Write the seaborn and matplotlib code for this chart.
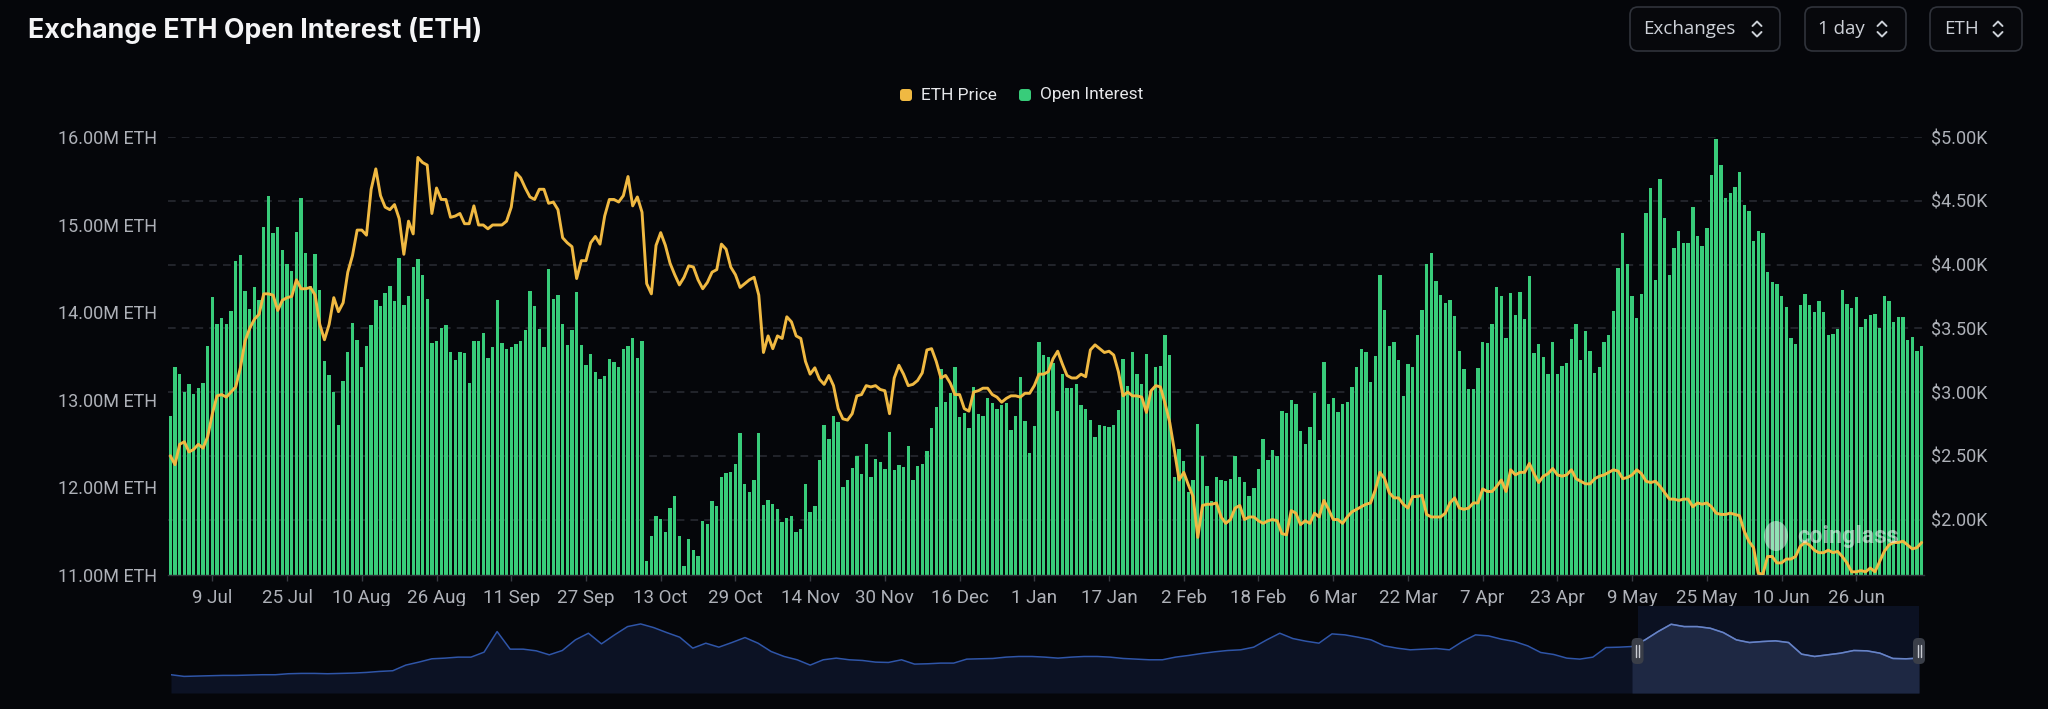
import numpy as np
import pandas as pd
import matplotlib.pyplot as plt
import seaborn as sns
from matplotlib.patches import FancyBboxPatch, Ellipse
from matplotlib.lines import Line2D
from matplotlib.transforms import IdentityTransform

# ---- data ----
start_date = "2025-06-30"

# exchange open interest, million ETH, one value per day
open_interest = [
    12.82, 13.38, 13.29, 13.09, 13.18, 13.07, 13.13, 13.19, 13.61, 14.17,
    13.86, 13.93, 13.87, 14.01, 14.58, 14.65, 14.24, 14.04, 14.29, 14.14,
    14.97, 15.33, 14.90, 14.97, 14.71, 14.55, 14.47, 14.92, 15.30, 14.68,
    14.30, 14.66, 14.25, 13.44, 13.28, 13.09, 12.71, 13.21, 13.54, 13.88,
    13.68, 13.37, 13.61, 13.85, 14.14, 14.07, 14.22, 14.30, 14.13, 14.62,
    14.08, 14.19, 14.52, 14.61, 14.43, 14.15, 13.65, 13.67, 13.82, 13.85,
    13.54, 13.45, 13.54, 13.53, 13.19, 13.67, 13.67, 13.76, 13.48, 13.60,
    14.14, 13.65, 13.58, 13.60, 13.64, 13.67, 13.80, 14.24, 14.07, 13.81,
    13.60, 14.49, 14.15, 14.20, 13.86, 13.63, 13.80, 14.23, 13.62, 13.40,
    13.52, 13.32, 13.24, 13.27, 13.47, 13.43, 13.38, 13.58, 13.61, 13.70,
    13.48, 13.67, 11.16, 11.45, 11.67, 11.64, 11.49, 11.76, 11.90, 11.45,
    11.10, 11.41, 11.28, 11.22, 11.62, 11.58, 11.85, 11.79, 12.12, 12.17,
    12.18, 12.27, 12.62, 12.04, 11.95, 12.08, 12.62, 11.80, 11.86, 11.81,
    11.75, 11.60, 11.65, 11.67, 11.49, 11.53, 12.04, 11.72, 11.79, 12.31,
    12.71, 12.55, 12.82, 12.75, 12.00, 12.09, 12.22, 12.36, 12.15, 12.50,
    12.12, 12.32, 12.29, 12.21, 12.63, 12.20, 12.25, 12.23, 12.47, 12.09,
    12.24, 12.27, 12.41, 12.68, 12.92, 13.35, 12.98, 13.08, 13.38, 12.80,
    12.85, 12.68, 13.15, 12.84, 12.82, 13.02, 12.96, 12.90, 12.94, 12.96,
    12.66, 12.82, 13.26, 12.76, 12.39, 12.70, 13.66, 13.51, 13.49, 13.42,
    12.87, 13.29, 13.13, 13.14, 13.18, 12.94, 12.89, 12.77, 12.57, 12.71,
    12.70, 12.69, 12.71, 12.88, 13.47, 13.16, 13.55, 13.30, 13.18, 13.52,
    13.10, 13.37, 13.39, 13.74, 13.51, 12.12, 12.44, 12.30, 11.95, 12.09,
    12.72, 12.36, 12.02, 11.85, 12.12, 12.09, 12.07, 12.10, 12.36, 12.12,
    12.06, 11.90, 11.99, 12.21, 12.55, 12.31, 12.43, 12.36, 12.87, 12.85,
    13.00, 12.95, 12.64, 12.49, 12.69, 13.08, 12.54, 13.43, 12.95, 13.02,
    12.86, 12.95, 12.97, 13.15, 13.38, 13.58, 13.54, 13.20, 13.50, 14.42,
    14.03, 13.61, 13.66, 13.46, 13.04, 13.41, 13.37, 13.74, 14.02, 14.55,
    14.68, 14.36, 14.20, 14.10, 14.14, 13.96, 13.56, 13.35, 13.12, 13.12,
    13.36, 13.66, 13.65, 13.87, 14.29, 14.18, 13.70, 14.22, 13.97, 14.23,
    13.92, 14.41, 13.53, 13.64, 13.49, 13.30, 13.66, 13.30, 13.39, 13.42,
    13.69, 13.86, 13.46, 13.79, 13.56, 13.31, 13.37, 13.66, 13.74, 14.01,
    14.51, 14.90, 14.55, 14.18, 13.93, 14.21, 15.13, 15.42, 14.37, 15.52,
    15.08, 14.43, 14.73, 14.93, 14.79, 14.79, 15.20, 14.87, 14.76, 14.96,
    15.57, 15.98, 15.68, 15.30, 15.36, 15.43, 15.60, 15.22, 15.15, 14.81,
    14.93, 14.90, 14.46, 14.34, 14.32, 14.18, 14.06, 13.70, 13.64, 14.08,
    14.21, 14.08, 14.00, 14.13, 14.00, 13.74, 13.75, 13.81, 14.25, 14.09,
    14.05, 14.17, 13.83, 13.92, 13.97, 13.98, 13.82, 14.19, 14.13, 13.89,
    13.94, 13.94, 13.68, 13.72, 13.56, 13.61,
]

# ETH price, thousand USD, one value per day
eth_price = [
    2.50, 2.43, 2.59, 2.61, 2.53, 2.55, 2.59, 2.56, 2.65, 2.83,
    2.97, 2.98, 2.96, 3.00, 3.04, 3.19, 3.40, 3.50, 3.57, 3.61,
    3.77, 3.77, 3.76, 3.64, 3.72, 3.74, 3.75, 3.88, 3.81, 3.81,
    3.82, 3.76, 3.53, 3.41, 3.53, 3.74, 3.63, 3.70, 3.94, 4.07,
    4.27, 4.27, 4.23, 4.59, 4.75, 4.54, 4.45, 4.43, 4.47, 4.36,
    4.08, 4.34, 4.24, 4.84, 4.80, 4.78, 4.40, 4.60, 4.51, 4.51,
    4.37, 4.38, 4.40, 4.32, 4.32, 4.46, 4.31, 4.31, 4.28, 4.31,
    4.31, 4.31, 4.34, 4.45, 4.72, 4.68, 4.60, 4.53, 4.51, 4.59,
    4.59, 4.48, 4.49, 4.43, 4.21, 4.17, 4.14, 3.89, 4.03, 4.03,
    4.17, 4.22, 4.16, 4.38, 4.51, 4.51, 4.49, 4.54, 4.69, 4.46,
    4.53, 4.41, 3.85, 3.77, 4.15, 4.25, 4.15, 4.01, 3.92, 3.84,
    3.90, 3.99, 3.98, 3.88, 3.81, 3.86, 3.94, 3.96, 4.16, 4.12,
    3.98, 3.92, 3.82, 3.85, 3.88, 3.90, 3.76, 3.31, 3.44, 3.34,
    3.44, 3.42, 3.59, 3.55, 3.44, 3.42, 3.24, 3.14, 3.19, 3.10,
    3.06, 3.13, 3.05, 2.87, 2.79, 2.78, 2.83, 2.97, 2.98, 3.05,
    3.04, 3.05, 3.02, 3.01, 2.83, 3.11, 3.21, 3.14, 3.05, 3.06,
    3.09, 3.15, 3.33, 3.34, 3.24, 3.11, 3.13, 3.07, 2.98, 2.98,
    2.87, 2.85, 3.00, 3.01, 3.03, 3.03, 2.98, 2.96, 2.92, 2.95,
    2.97, 2.97, 2.96, 2.99, 2.99, 3.05, 3.14, 3.14, 3.16, 3.26,
    3.32, 3.22, 3.13, 3.11, 3.11, 3.14, 3.12, 3.33, 3.37, 3.34,
    3.31, 3.32, 3.29, 3.16, 2.97, 3.00, 2.97, 2.97, 2.96, 2.84,
    3.01, 3.05, 3.04, 2.91, 2.76, 2.54, 2.31, 2.37, 2.27, 2.18,
    1.86, 2.11, 2.12, 2.12, 2.13, 2.02, 1.97, 2.00, 2.09, 2.11,
    2.00, 2.02, 2.02, 1.99, 1.97, 1.99, 2.00, 1.99, 1.89, 1.88,
    2.07, 2.05, 1.96, 1.99, 1.97, 2.05, 2.02, 2.15, 2.08, 2.00,
    2.00, 1.97, 2.02, 2.06, 2.08, 2.10, 2.12, 2.13, 2.23, 2.37,
    2.32, 2.21, 2.17, 2.17, 2.12, 2.09, 2.18, 2.18, 2.19, 2.04,
    2.02, 2.02, 2.02, 2.05, 2.13, 2.17, 2.09, 2.08, 2.09, 2.13,
    2.13, 2.24, 2.22, 2.22, 2.26, 2.31, 2.22, 2.39, 2.35, 2.37,
    2.37, 2.44, 2.36, 2.29, 2.34, 2.36, 2.40, 2.35, 2.34, 2.35,
    2.39, 2.32, 2.30, 2.28, 2.28, 2.32, 2.34, 2.35, 2.37, 2.39,
    2.38, 2.32, 2.33, 2.35, 2.39, 2.36, 2.30, 2.29, 2.30, 2.26,
    2.21, 2.16, 2.16, 2.15, 2.16, 2.16, 2.10, 2.13, 2.12, 2.13,
    2.10, 2.05, 2.04, 2.04, 2.05, 2.04, 2.03, 1.91, 1.83, 1.78,
    1.58, 1.57, 1.71, 1.71, 1.66, 1.66, 1.69, 1.69, 1.71, 1.79,
    1.82, 1.80, 1.76, 1.74, 1.74, 1.76, 1.74, 1.75, 1.71, 1.66,
    1.59, 1.59, 1.60, 1.59, 1.62, 1.59, 1.67, 1.75, 1.80, 1.82,
    1.82, 1.83, 1.80, 1.77, 1.78, 1.82,
]

# overview line in the zoom slider (whole history, relative level)
overview_level = [
    55, 50, 51, 52, 53, 53, 54, 55, 55, 58, 59, 59, 58, 59, 60, 62, 65, 67,
    84, 93, 103, 105, 108, 108, 123, 185, 132, 132, 127, 115, 128, 160, 180,
    148, 175, 200, 208, 197, 182, 168, 135, 150, 138, 152, 167, 150, 125, 110,
    100, 84, 100, 105, 100, 98, 93, 92, 100, 87, 88, 90, 90, 102, 103, 104,
    108, 110,
    110, 108, 105, 108, 110, 110, 108, 104, 102, 100, 100, 108, 113, 119, 124,
    128, 130, 138, 160, 180, 164, 156, 150, 178, 175, 168, 160, 142, 135, 130,
    132, 134, 130, 155, 175, 172, 162, 155, 142, 122, 116, 105, 102, 108, 137,
    138, 140, 160, 185, 207, 200, 200, 195, 182, 160, 152, 155, 157, 152, 117,
    110, 115, 120, 128, 127, 120, 104, 103, 105,
]
zoom_start = 0.839   # slider window start (fraction of history)

oi_ticks = [11, 12, 13, 14, 15, 16]
price_ticks = [2.0, 2.5, 3.0, 3.5, 4.0, 4.5, 5.0]
price_range = (1.565, 5.0)
controls = ["Exchanges", "1 day", "ETH"]

dates = pd.date_range(start_date, periods=len(open_interest), freq="D")
df = pd.DataFrame({"day": np.arange(len(dates)), "oi": open_interest, "price": eth_price})

# ---- style ----
W, H = 2048, 709
BG = "#05060a"
GREEN = "#38cc7a"
GOLD = "#f0b942"
GRID = "#2a2d34"
LABEL = "#aeb1b8"

sns.set_theme(style="dark", rc={"axes.facecolor": BG, "figure.facecolor": BG})
plt.rcParams["font.family"] = ["Roboto", "DejaVu Sans"]

fig = plt.figure(figsize=(W / 100, H / 100), dpi=100, facecolor=BG)


def fx(x):
    return x / W


def fy(y):
    return 1 - y / H


def px_box(x0, y0, w, h, r, **kw):
    # rounded box in pixel coords, y measured from the top
    p = FancyBboxPatch((x0, H - y0 - h), w, h, boxstyle=f"round,pad=0,rounding_size={r}",
                       transform=IdentityTransform(), **kw)
    fig.add_artist(p)
    return p


def px_line(xs, ys, **kw):
    fig.add_artist(Line2D(xs, [H - y for y in ys], transform=IdentityTransform(), **kw))


# ---- main chart ----
ax = fig.add_axes([fx(168), fy(575), fx(1924) - fx(168), fy(137) - fy(575)])
ax.set_facecolor(BG)

plo, phi = price_range
for p in price_ticks:
    yv = oi_ticks[0] + (p - plo) / (phi - plo) * (oi_ticks[-1] - oi_ticks[0])
    ax.axhline(yv, color=GRID, lw=1.1, ls=(0, (5, 4)), zorder=0.5)

sns.barplot(data=df, x="day", y="oi", native_scale=True, color=GREEN, saturation=1,
            width=0.72, linewidth=0, errorbar=None, ax=ax, zorder=2)
ax.set_xlim(-0.5, len(df) - 0.5)
ax.set_ylim(oi_ticks[0], oi_ticks[-1])
ax.set_yticks(oi_ticks)
ax.set_yticklabels([f"{v:.2f}M ETH" for v in oi_ticks])

tick_idx = [i for i in range(len(dates)) if (i - 9) % 16 == 0]
ax.set_xticks(tick_idx)
ax.set_xticklabels([f"{dates[i].day} {dates[i].strftime('%b')}" for i in tick_idx])
ax.set_xlabel("")
ax.set_ylabel("")
ax.tick_params(axis="y", length=0, pad=8, labelsize=13, labelcolor=LABEL)
ax.tick_params(axis="x", length=4, width=1, color="#3a3d45", pad=6, labelsize=13.5,
               labelcolor=LABEL, bottom=True)
for s in ["top", "left", "right"]:
    ax.spines[s].set_visible(False)
ax.spines["bottom"].set_color("#30333a")
ax.spines["bottom"].set_linewidth(1)
ax.grid(False)

ax2 = ax.twinx()
sns.lineplot(data=df, x="day", y="price", ax=ax2, color=GOLD, linewidth=2.1)
ax2.set_ylim(plo, phi)
ax2.set_yticks(price_ticks)
ax2.set_yticklabels([f"${v:.2f}K" for v in price_ticks])
ax2.set_ylabel("")
ax2.tick_params(axis="y", length=0, pad=5, labelsize=13, labelcolor=LABEL)
for s in ax2.spines.values():
    s.set_visible(False)
ax2.grid(False)

# ---- title, controls, legend ----
fig.text(fx(28), fy(30), "Exchange ETH Open Interest (ETH)", fontsize=19.3,
         fontweight="bold", color="#f4f4f6", va="center", ha="left",
         family=["Inter", "DejaVu Sans"])

boxes = [(1630, 150, 1643, 1757), (1805, 101, 1818, 1882), (1930, 92, 1944, 1998)]
for label, (bx, bw, tx, cx) in zip(controls, boxes):
    px_box(bx, 7, bw, 44, 8, facecolor="#07080c", edgecolor="#30333b", lw=1.2)
    fig.text(fx(tx), fy(29), label, fontsize=13.5, color="#cdd1d8", va="center",
             ha="left", family=["Open Sans", "DejaVu Sans"])
    px_line([cx - 4.5, cx, cx + 4.5], [26, 21.5, 26], color="#cdd1d8", lw=1.4)
    px_line([cx - 4.5, cx, cx + 4.5], [32, 36.5, 32], color="#cdd1d8", lw=1.4)

for (sx, tx), name, col in zip([(900, 921), (1019, 1040)], ["ETH Price", "Open Interest"],
                               [GOLD, GREEN]):
    px_box(sx, 89, 12, 12, 3, facecolor=col, edgecolor="none")
    fig.text(fx(tx), fy(95), name, fontsize=12.5, color="#e6e7ea", va="center", ha="left")

# watermark
fig.add_artist(Ellipse((1776, H - 536), 24, 30, transform=IdentityTransform(),
                       facecolor="white", alpha=0.45, edgecolor="none"))
fig.text(fx(1797), fy(536), "coinglass", fontsize=17, fontweight="bold", color="white",
         alpha=0.5, va="center", ha="left")

# ---- zoom slider ----
nav = fig.add_axes([fx(171), fy(693), fx(1919) - fx(171), fy(606) - fy(693)])
nav.set_facecolor(BG)
nav_x = np.linspace(0, 1, len(overview_level))
lvl = np.array(overview_level, dtype=float)
nav.fill_between(nav_x, lvl, 0, color="#0c1224", lw=0, zorder=1)
nav.axvspan(zoom_start, 1, color="#0b1122", lw=0, zorder=0.5)
sel = nav_x >= zoom_start - 0.004
nav.fill_between(nav_x[sel], lvl[sel], 0, color="#1e2843", lw=0, zorder=1.5)
sns.lineplot(x=nav_x, y=lvl, ax=nav, color="#2f55a8", linewidth=1.1, zorder=2)
sns.lineplot(x=nav_x[sel], y=lvl[sel], ax=nav, color="#6a84c4", linewidth=1.1, zorder=2.5)
nav.set_xlim(0, 1)
nav.set_ylim(0, 262)
nav.set_xticks([])
nav.set_yticks([])
nav.set_xlabel("")
nav.set_ylabel("")
for s in nav.spines.values():
    s.set_visible(False)

for hx in [171 + zoom_start * 1748, 1919]:
    px_box(hx - 6, 638, 12, 26, 5, facecolor="#3a3e48", edgecolor="none")
    px_line([hx - 1.5, hx - 1.5], [645, 657], color="#c9ccd3", lw=1)
    px_line([hx + 1.5, hx + 1.5], [645, 657], color="#c9ccd3", lw=1)

fig.savefig("out.png", dpi=100, facecolor=BG)
